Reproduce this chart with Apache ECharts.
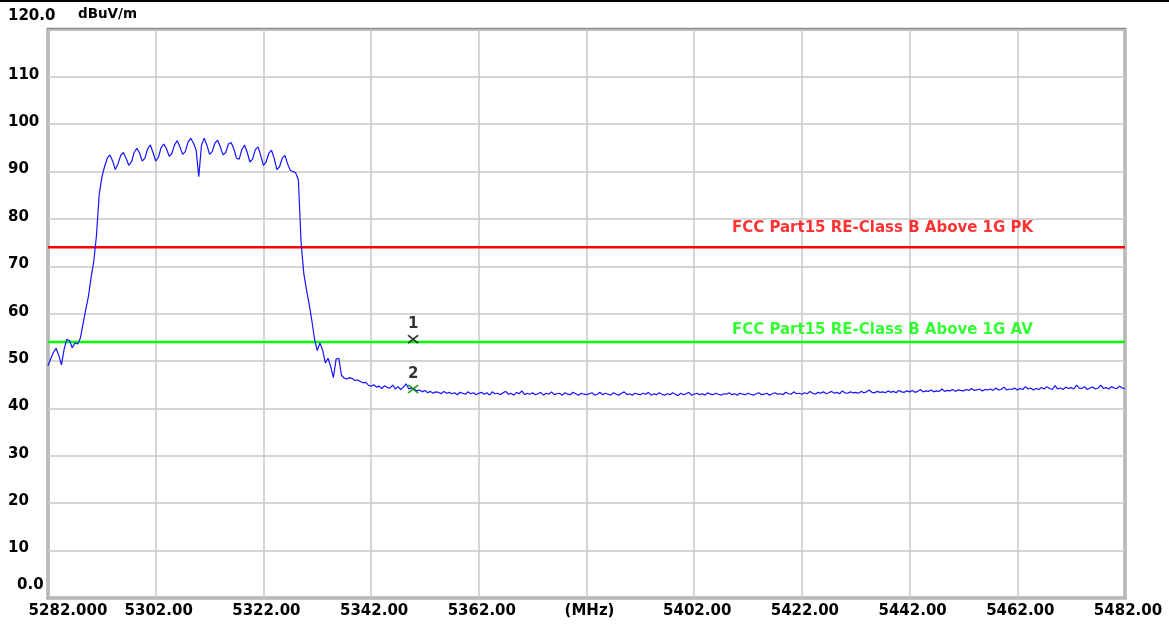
<!DOCTYPE html>
<html><head><meta charset="utf-8">
<script src="https://cdn.jsdelivr.net/npm/echarts@6/dist/echarts.min.js"></script>
<style>html,body{margin:0;padding:0;background:#fff}#c{width:1169px;height:627px}</style>
</head><body><div id="c"></div>
<script>
// ---- data ----
const FREQ_START = 5282;   // MHz, first sample
const FREQ_STEP = 0.5;     // MHz between samples
const level = [
  49.0, 50.5, 51.8, 52.7, 51.2, 49.2, 52.5, 54.6, 54.3, 52.8,
  53.8, 53.6, 54.8, 57.8, 60.8, 63.6, 67.6, 71.0, 76.5, 85.0,
  88.8, 91.0, 92.8, 93.5, 92.2, 90.4, 91.6, 93.4, 94.0, 92.8,
  91.3, 92.0, 94.0, 94.9, 93.9, 92.2, 92.8, 94.8, 95.6, 94.0,
  92.2, 93.0, 95.0, 95.8, 94.8, 93.2, 93.8, 95.6, 96.5, 95.2,
  93.6, 94.2, 96.2, 97.0, 96.0, 94.6, 88.9, 95.5, 97.0, 95.6,
  93.6, 94.2, 96.0, 96.6, 95.2, 93.5, 94.0, 95.8, 96.1, 94.8,
  92.8, 92.6, 94.6, 95.6, 94.0, 92.0, 92.6, 94.6, 95.2, 93.4,
  91.3, 92.0, 93.8, 94.5, 92.8, 90.4, 91.0, 92.8, 93.4, 91.6,
  90.2, 90.0, 89.7, 88.2, 75.0, 68.5, 65.0, 62.0, 58.5, 54.6,
  52.2, 53.8, 52.3, 49.6, 50.6, 48.8, 46.5, 50.4, 50.6, 47.0,
  46.4, 46.2, 46.5, 46.3, 45.9, 46.0, 45.7, 45.4, 45.5, 44.9,
  44.7, 45.0, 44.5, 44.7, 44.2, 44.8, 44.4, 44.3, 44.9, 44.1,
  44.6, 44.0, 44.5, 45.2, 44.1, 44.3, 44.1, 43.7, 43.9, 43.5,
  43.8, 43.3, 43.6, 43.2, 43.5, 43.4, 43.1, 43.6, 43.2, 43.4,
  43.1, 43.3, 42.9, 43.4, 43.2, 43.0, 43.5, 43.1, 43.3, 42.9,
  43.2, 43.4, 43.0, 43.3, 42.8, 43.5, 43.1, 43.2, 42.9, 43.3,
  43.6, 43.0, 43.2, 42.8, 43.4, 43.1, 43.7, 42.9, 43.2, 43.0,
  43.3, 42.9, 43.1, 43.4, 42.8, 43.2, 43.0, 43.5, 42.9, 43.1,
  43.2, 42.8, 43.3, 43.0, 42.9, 43.4, 43.1, 42.8, 43.2, 43.0,
  42.9, 43.1, 43.3, 42.8, 43.0, 43.4, 42.9, 43.2, 43.0, 42.8,
  43.3, 43.0, 42.8, 43.2, 43.5, 42.9, 43.1, 42.8, 43.2, 43.0,
  42.9, 43.2, 43.0, 43.4, 42.8, 43.1, 42.9, 43.3, 43.0, 42.8,
  43.1, 42.9, 43.3, 43.0, 42.7, 43.2, 42.9, 43.1, 43.4, 42.8,
  43.0, 43.2, 42.9, 43.1, 42.8, 43.3, 43.0, 42.9, 43.2, 43.0,
  42.8, 43.1, 43.0, 43.3, 42.9, 43.1, 42.8, 43.2, 43.0, 42.9,
  43.2, 43.0, 42.8, 43.1, 43.3, 42.9, 43.0, 43.2, 42.8, 43.1,
  43.3, 43.0, 43.1, 42.9, 43.4, 43.1, 43.0, 43.5, 43.1, 43.2,
  43.0, 43.3, 43.1, 43.6, 43.2, 43.0, 43.4, 43.2, 43.5, 43.1,
  43.3, 43.6, 43.2, 43.4, 43.1, 43.7, 43.3, 43.2, 43.5, 43.3,
  43.4, 43.2, 43.6, 43.3, 43.5, 43.9, 43.4, 43.3, 43.6, 43.4,
  43.5, 43.3, 43.7, 43.4, 43.6, 43.3, 43.8, 43.5, 43.4, 43.7,
  43.5, 43.8, 43.4, 43.6, 44.0, 43.5, 43.7, 43.6, 43.9, 43.5,
  43.7, 43.6, 44.1, 43.6, 43.8, 43.7, 44.0, 43.6, 43.9, 43.8,
  43.7, 44.0, 43.8, 44.2, 43.8, 43.9, 44.1, 43.7, 44.0, 43.9,
  44.1, 43.8, 44.3, 43.9, 44.0, 44.5, 43.9, 44.1, 44.0, 44.3,
  43.9, 44.2, 44.0, 44.6, 44.1, 44.3, 43.9, 44.2, 44.0, 44.4,
  44.1, 44.6, 44.2, 44.0, 44.8, 44.1, 44.3, 44.0, 44.5, 44.2,
  44.4, 44.1, 44.9, 44.3, 44.2, 44.6, 44.0, 44.3, 44.5, 44.1,
  44.3, 44.9, 44.2, 44.4, 44.1, 44.6, 44.3, 44.2, 44.7, 44.3,
  44.2
];
const xTicks = [5282, 5302, 5322, 5342, 5362, 5382, 5402, 5422, 5442, 5462, 5482];
const xTickLabels = ['5282.000', '5302.00', '5322.00', '5342.00', '5362.00', '(MHz)',
                     '5402.00', '5422.00', '5442.00', '5462.00', '5482.00'];
const yTicks = [0, 10, 20, 30, 40, 50, 60, 70, 80, 90, 100, 110, 120];
const yTickLabels = ['0.0', '10', '20', '30', '40', '50', '60', '70', '80', '90', '100', '110', '120.0'];
const yUnit = 'dBuV/m';
const limitNames = ['FCC Part15 RE-Class B Above 1G PK', 'FCC Part15 RE-Class B Above 1G AV'];
const limitLevels = [74, 54];
const limitLabelFreq = 5409;
const markerNames = ['1', '2'];
const markerFreqs = [5349.8, 5349.8];
const markerLevels = [54.6, 44.1];

// ---- chart ----
const FONT = 'DejaVu Sans';
const FS = 15;
const limitColors = ['#ff0000', '#00ff00'];
const markerColors = ['#000000', '#008000'];
const chart = echarts.init(document.getElementById('c'), null, { renderer: 'canvas' });

const traceData = level.map((v, i) => [FREQ_START + i * FREQ_STEP, v]);
const xMin = xTicks[0], xMax = xTicks[xTicks.length - 1];
const txt = (extra) => Object.assign({ color: '#000', fontFamily: FONT, fontWeight: 'bold', fontSize: FS }, extra || {});

const series = [];
limitLevels.forEach((lv, k) => {
  series.push({
    type: 'line', name: limitNames[k], data: [[xMin, lv], [xMax, lv]],
    showSymbol: false, silent: true, z: 2,
    lineStyle: { color: limitColors[k], width: 2.5 }
  });
  series.push({
    type: 'scatter', data: [[limitLabelFreq, lv]], symbolSize: 0, z: 3, silent: true,
    label: txt({
      show: true, formatter: limitNames[k], position: [0, k === 0 ? -19 : -12],
      align: 'left', verticalAlign: 'middle', color: limitColors[k]
    })
  });
});
series.push({
  type: 'line', name: 'trace', data: traceData, showSymbol: false, z: 4,
  lineStyle: { color: '#1414ff', width: 1.2 }
});
series.push({
  type: 'scatter', z: 5,
  data: markerFreqs.map((f, k) => ({
    value: [f, markerLevels[k]], name: markerNames[k],
    itemStyle: { color: 'rgba(0,0,0,0)', borderColor: markerColors[k], borderWidth: 1.8 }
  })),
  symbol: 'path://M0,0L10,8M10,0L0,8', symbolSize: [10, 8], symbolKeepAspect: false,
  label: txt({ show: true, formatter: p => p.name, position: 'top', distance: 3 })
});

chart.setOption({
  animation: false,
  backgroundColor: '#ffffff',
  grid: { left: 48, right: 44, top: 29.3, bottom: 29, show: true,
          borderColor: '#8a8a8a', borderWidth: 3, backgroundColor: '#ffffff' },
  xAxis: {
    type: 'value', min: xMin, max: xMax, interval: 20,
    axisLine: { show: false }, axisTick: { show: false },
    splitLine: { show: true, lineStyle: { color: '#c8c8c8', width: 1.5 } },
    axisLabel: txt({
      margin: 6, showMinLabel: true, showMaxLabel: true,
      formatter: v => {
        const i = xTicks.indexOf(Math.round(v));
        if (i < 0) return '';
        return (i === 0 ? '{f|' : '{n|') + xTickLabels[i] + '}';
      },
      rich: {
        f: txt({ padding: [0, 0, 0, 40] }),
        n: txt({ padding: [0, 0, 0, 6] })
      }
    })
  },
  yAxis: {
    type: 'value', min: 0, max: 120, interval: 10,
    name: yUnit, nameLocation: 'end', nameGap: 15,
    nameTextStyle: txt({ align: 'left', verticalAlign: 'middle', padding: [0, 0, 0, 30], fontSize: 13.5 }),
    axisLine: { show: false }, axisTick: { show: false },
    splitLine: { show: true, lineStyle: { color: '#c8c8c8', width: 1.5 } },
    axisLabel: txt({
      margin: 40, align: 'left', showMinLabel: true, showMaxLabel: true,
      formatter: v => {
        const i = yTicks.indexOf(Math.round(v));
        if (i < 0) return '';
        if (i === 0) return '{z|' + yTickLabels[i] + '}';
        if (i === yTicks.length - 1) return '{t|' + yTickLabels[i] + '}';
        return '{n|' + yTickLabels[i] + '}';
      },
      rich: {
        z: txt({ padding: [0, 0, 26, 9] }),
        t: txt({ padding: [0, 0, 26, 0] }),
        n: txt({ padding: [0, 0, 4, 0] })
      }
    })
  },
  graphic: [{ type: 'rect', left: 0, top: 0, shape: { width: 1169, height: 2 }, style: { fill: '#000' }, silent: true }],
  series: series
});
</script>
</body></html>
